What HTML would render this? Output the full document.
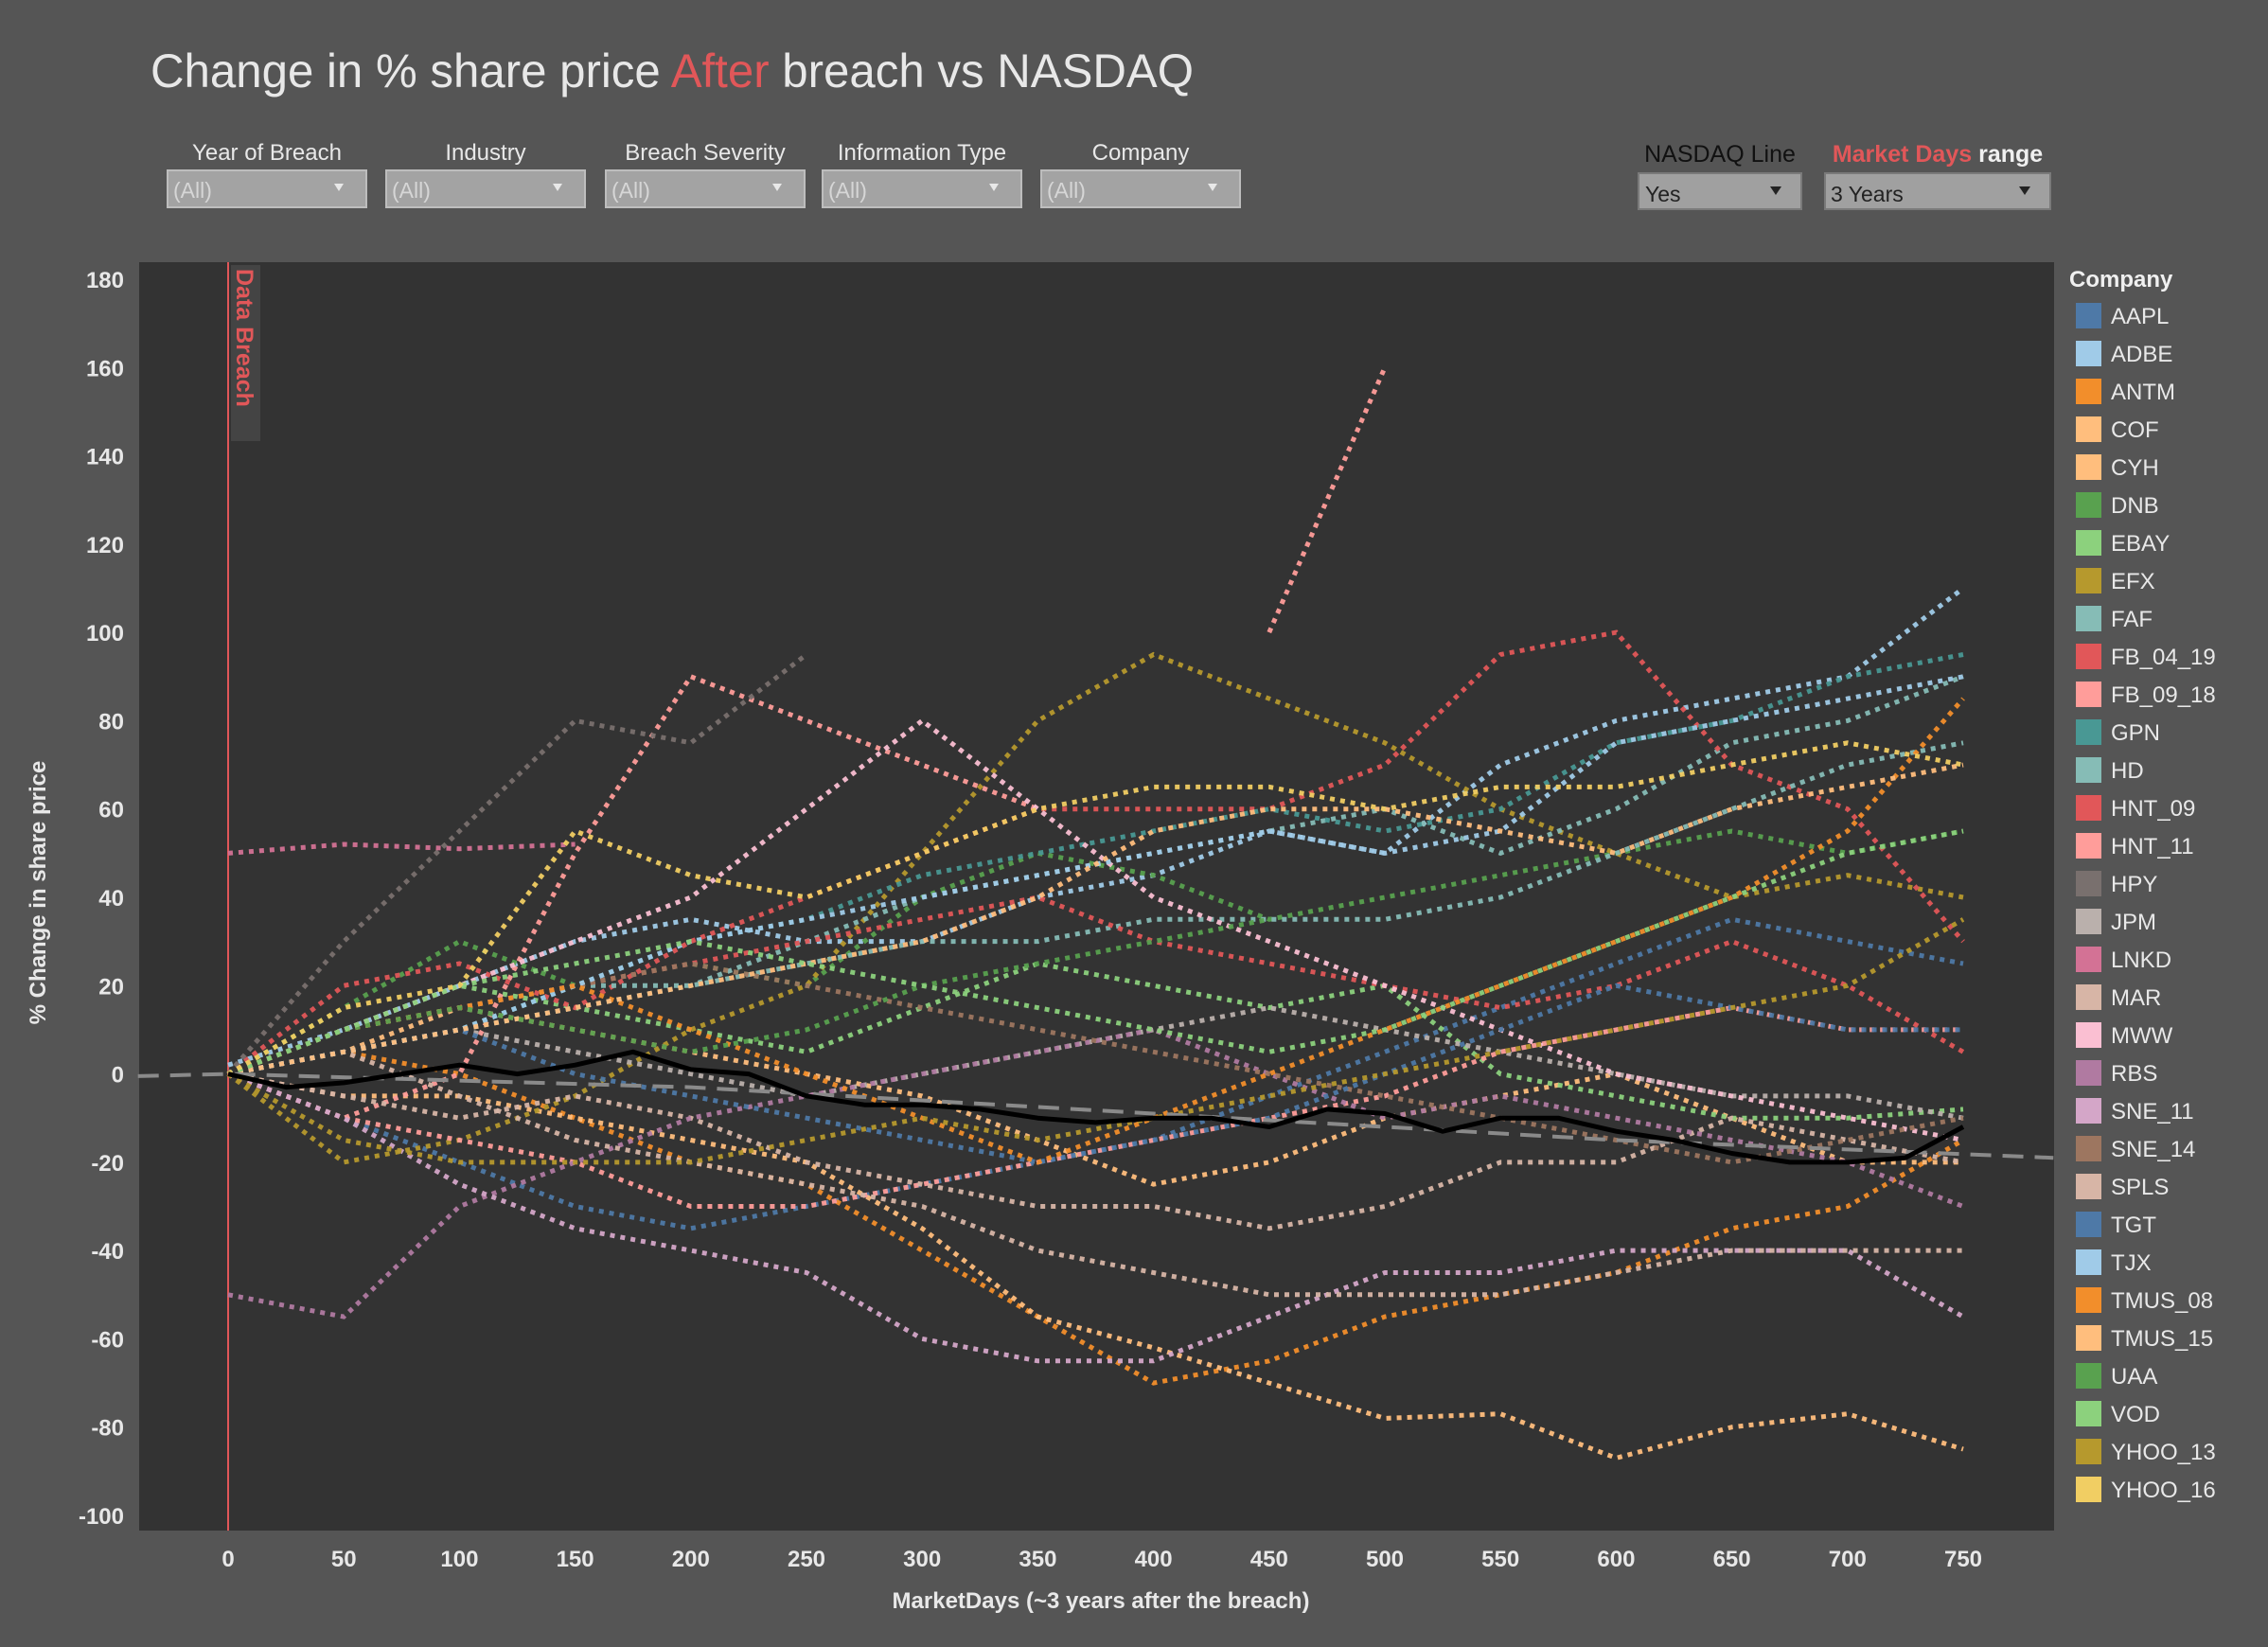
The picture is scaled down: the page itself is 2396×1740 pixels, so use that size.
<!DOCTYPE html>
<html><head><meta charset="utf-8">
<style>
html,body{margin:0;padding:0;background:#555555;}
svg{display:block;font-family:"Liberation Sans",sans-serif;}
</style></head>
<body>
<svg id="c" width="2396" height="1740" viewBox="0 0 2396 1740" xmlns="http://www.w3.org/2000/svg">
<rect x="0" y="0" width="2396" height="1740" fill="#555555"/>
<text x="159" y="92" font-size="50" fill="#e8e8e8" textLength="1102" lengthAdjust="spacingAndGlyphs">Change in % share price  <tspan fill="#e15759">After</tspan> breach vs NASDAQ</text>
<g id="filters"></g>
<rect x="147" y="277" width="2023" height="1340" fill="#333333"/>
<g id="plot"></g>
<g id="axes"></g>
<g id="legend"></g>
</svg>
<script>
const days = [0,50,100,150,200,250,300,350,400,450,500,550,600,650,700,750];
const companies = ["AAPL","ADBE","ANTM","COF","CYH","DNB","EBAY","EFX","FAF","FB_04_19","FB_09_18","GPN","HD","HNT_09","HNT_11","HPY","JPM","LNKD","MAR","MWW","RBS","SNE_11","SNE_14","SPLS","TGT","TJX","TMUS_08","TMUS_15","UAA","VOD","YHOO_13","YHOO_16"];
const colors = ["#4e79a7","#a0cbe8","#f28e2b","#ffbe7d","#ffbe7d","#59a14f","#8cd17d","#b6992d","#86bcb6","#e15759","#ff9d9a","#499894","#86bcb6","#e15759","#ff9d9a","#79706e","#bab0ac","#d37295","#d7b5a6","#fabfd2","#b07aa1","#d4a6c8","#9d7660","#d7b5a6","#4e79a7","#a0cbe8","#f28e2b","#ffbe7d","#59a14f","#8cd17d","#b6992d","#f1ce63"];
const vAAPL=[0,-10,-20,-30,-35,-30,-25,-20,-15,-5,5,15,25,35,30,25];
const vADBE=[2,10,20,30,35,30,30,40,45,55,50,70,80,85,90,110];
const vANTM=[0,5,0,-10,-20,-25,-40,-55,-70,-65,-55,-50,-45,-35,-30,-15];
const vCOF=[0,5,15,10,5,0,-5,-15,-25,-20,-10,-5,0,-10,-20,-20];
const vCYH=[0,-5,-5,-10,-15,-20,-35,-55,-62,-70,-78,-77,-87,-80,-77,-85];
const vDNB=[0,15,30,20,25,20,40,50,45,35,40,45,50,55,50,55];
const vEBAY=[0,10,20,15,10,5,15,25,20,15,20,0,-5,-10,-10,-8];
const vEFX=[0,-20,-15,-5,10,20,50,80,95,85,75,60,50,40,45,40];
const vFAF=[0,5,10,15,20,30,40,45,50,55,60,50,60,75,80,90];
const vFB_04_19=[0,20,25,15,30,40,50,60,60,60,70,95,100,70,60,30];
const vFB_09_18=[0,-10,0,50,90,80,70,60,null,100,160,null,null,null,null,null];
const vGPN=[0,5,10,20,30,35,45,50,55,60,55,60,75,80,90,95];
const vHD=[0,10,15,20,20,25,30,30,35,35,35,40,50,60,70,75];
const vHNT_09=[0,10,15,20,25,30,35,40,30,25,20,15,20,30,20,5];
const vHNT_11=[0,-10,-15,-20,-30,-30,-25,-20,-15,-10,-5,5,10,15,10,10];
const vHPY=[0,30,55,80,75,95,null,null,null,null,null,null,null,null,null,null];
const vJPM=[0,5,10,5,0,-5,0,5,10,15,10,5,0,-5,-5,-10];
const vLNKD=[50,52,51,52,null,null,null,null,null,null,null,null,null,null,null,null];
const vMAR=[0,-5,-10,-5,-10,-20,-25,-30,-30,-35,-30,-20,-20,-10,-15,-20];
const vMWW=[0,10,20,30,40,60,80,60,40,30,20,10,0,-5,-10,-15];
const vRBS=[-50,-55,-30,-20,-10,-5,0,5,10,0,-10,-5,-10,-15,-20,-30];
const vSNE_11=[0,-10,-25,-35,-40,-45,-60,-65,-65,-55,-45,-45,-40,-40,-40,-55];
const vSNE_14=[0,10,15,20,25,20,15,10,5,0,-5,-10,-15,-20,-15,-10];
const vSPLS=[0,5,-5,-15,-20,-25,-30,-40,-45,-50,-50,-50,-45,-40,-40,-40];
const vTGT=[0,5,10,0,-5,-10,-15,-20,-15,-10,0,10,20,15,10,10];
const vTJX=[0,5,10,20,30,35,40,45,50,55,50,55,75,80,85,90];
const vTMUS_08=[0,10,15,20,10,0,-10,-20,-10,0,10,20,30,40,55,85];
const vTMUS_15=[0,5,10,15,20,25,30,40,55,60,60,55,50,60,65,70];
const vUAA=[0,10,15,10,5,10,20,25,30,35,null,null,null,null,null,null];
const vVOD=[0,10,20,25,30,25,20,15,10,5,10,20,30,40,50,55];
const vYHOO_13=[0,-15,-20,-20,-20,-15,-10,-15,-10,-5,0,5,10,15,20,35];
const vYHOO_16=[0,15,20,55,45,40,50,60,65,65,60,65,65,70,75,70];
const seriesValues=[vAAPL,vADBE,vANTM,vCOF,vCYH,vDNB,vEBAY,vEFX,vFAF,vFB_04_19,vFB_09_18,vGPN,vHD,vHNT_09,vHNT_11,vHPY,vJPM,vLNKD,vMAR,vMWW,vRBS,vSNE_11,vSNE_14,vSPLS,vTGT,vTJX,vTMUS_08,vTMUS_15,vUAA,vVOD,vYHOO_13,vYHOO_16];
const nasdaqDays=[0,25,50,75,100,125,150,175,200,225,250,275,300,325,350,375,400,425,450,475,500,525,550,575,600,625,650,675,700,725,750];
const nasdaqValues=[0,-3,-2,0,2,0,2,5,1,0,-5,-7,-7,-8,-10,-11,-10,-10,-12,-8,-9,-13,-10,-10,-13,-15,-18,-20,-20,-19,-12];
const trendDays=[-39,0,200,400,600,789];
const trendValues=[-0.5,0,-3,-9,-15,-19];
const yTicks=[180,160,140,120,100,80,60,40,20,0,-20,-40,-60,-80,-100];
const xTicks=[0,50,100,150,200,250,300,350,400,450,500,550,600,650,700,750];

const NS="http://www.w3.org/2000/svg";
function X(d){return 241+d*(2074-241)/750;}
function Y(v){return 295+(180-v)*(1601-295)/280;}
function mk(tag,attrs,parent,text){const e=document.createElementNS(NS,tag);for(const k in attrs)e.setAttribute(k,attrs[k]);if(text!==undefined)e.textContent=text;parent.appendChild(e);return e;}

const plot=document.getElementById('plot');
const bl=mk('line',{x1:X(0),x2:X(0),y1:277,y2:1617,stroke:'#e15759','stroke-width':2},plot);


const bb=mk('rect',{x:X(0)+3,y:280,width:31,height:186,fill:'#444444'},plot);


const bt=mk('text',{x:0,y:0,transform:`translate(${X(0)+9},284) rotate(90)`,'font-size':25,'font-weight':'bold',fill:'#e15759'},plot,'Data Breach');



seriesValues.forEach((vals,i)=>{
  let segs=[],cur=[];
  vals.forEach((v,j)=>{if(v===null){if(cur.length)segs.push(cur);cur=[];}else cur.push(X(days[j]).toFixed(1)+','+Y(v).toFixed(1));});
  if(cur.length)segs.push(cur);
  segs.forEach(s=>{
    const p=mk('polyline',{points:s.join(' '),fill:'none',stroke:colors[i],'stroke-width':5,'stroke-dasharray':'5 6',opacity:0.95},plot);
    
    
  });
});
const tp=mk('polyline',{points:trendDays.map((d,i)=>X(d).toFixed(1)+','+Y(trendValues[i]).toFixed(1)).join(' '),fill:'none',stroke:'#8a8a8a','stroke-width':4,'stroke-dasharray':'22 12'},plot);


const np=mk('polyline',{points:nasdaqDays.map((d,i)=>X(d).toFixed(1)+','+Y(nasdaqValues[i]).toFixed(1)).join(' '),fill:'none',stroke:'#000','stroke-width':5,'stroke-linejoin':'round'},plot);



const axes=document.getElementById('axes');
yTicks.forEach(t=>{
  const e=mk('text',{x:131,y:Y(t)+9,'text-anchor':'end','font-size':24,'font-weight':'bold',fill:'#e8e8e8'},axes,String(t));
  
  
});
xTicks.forEach(t=>{
  const e=mk('text',{x:X(t),y:1655,'text-anchor':'middle','font-size':24,'font-weight':'bold',fill:'#e8e8e8'},axes,String(t));
  
  
});
const xt=mk('text',{x:1163,y:1699,'text-anchor':'middle','font-size':24,'font-weight':'bold',fill:'#e8e8e8'},axes,'MarketDays (~3 years after the breach)');


const yt=mk('text',{x:0,y:0,transform:'translate(48,943) rotate(-90)','text-anchor':'middle','font-size':24,'font-weight':'bold',fill:'#e8e8e8'},axes,'% Change in share price');



const lg=document.getElementById('legend');
const lt=mk('text',{x:2186,y:303,'font-size':24,'font-weight':'bold',fill:'#f0f0f0'},lg,'Company');


companies.forEach((n,i)=>{
  const yy=320+i*40;
  const g=mk('g',{},lg);
  
  
  mk('rect',{x:2193,y:yy,width:27,height:27,fill:colors[i]},g);
  mk('text',{x:2230,y:yy+22,'font-size':24,fill:'#e8e8e8'},g,n);
});

const fl=document.getElementById('filters');
const fdefs=[["Year of Breach",177],["Industry",408],["Breach Severity",640],["Information Type",869],["Company",1100]];
fdefs.forEach(f=>{
  const g=mk('g',{},fl);
  
  
  mk('text',{x:f[1]+105,y:169,'text-anchor':'middle','font-size':24,fill:'#e8e8e8'},g,f[0]);
  mk('rect',{x:f[1],y:180,width:210,height:39,fill:'#a3a3a3',stroke:'#bdbdbd','stroke-width':2},g);
  mk('text',{x:f[1]+6,y:209,'font-size':23,fill:'#d6d6d6'},g,'(All)');
  mk('path',{d:`M${f[1]+176},194 l10,0 l-5,8 z`,fill:'#e8e8e8'},g);
});
const g1=mk('g',{},fl);


mk('text',{x:1817,y:171,'text-anchor':'middle','font-size':25,fill:'#111'},g1,'NASDAQ Line');
mk('rect',{x:1731,y:183,width:172,height:38,fill:'#a0a0a0',stroke:'#7a7a7a','stroke-width':2},g1);
mk('text',{x:1738,y:213,'font-size':23,fill:'#222'},g1,'Yes');
mk('path',{d:'M1870,197 l12,0 l-6,9 z',fill:'#222'},g1);
const g2=mk('g',{},fl);


mk('text',{x:2047,y:171,'text-anchor':'middle','font-size':25,'font-weight':'bold',fill:'#f0f0f0'},g2).innerHTML='<tspan fill="#e15759">Market Days</tspan> range';
mk('rect',{x:1928,y:183,width:238,height:38,fill:'#a0a0a0',stroke:'#7a7a7a','stroke-width':2},g2);
mk('text',{x:1934,y:213,'font-size':23,fill:'#222'},g2,'3 Years');
mk('path',{d:'M2133,197 l12,0 l-6,9 z',fill:'#222'},g2);
</script>
</body></html>
